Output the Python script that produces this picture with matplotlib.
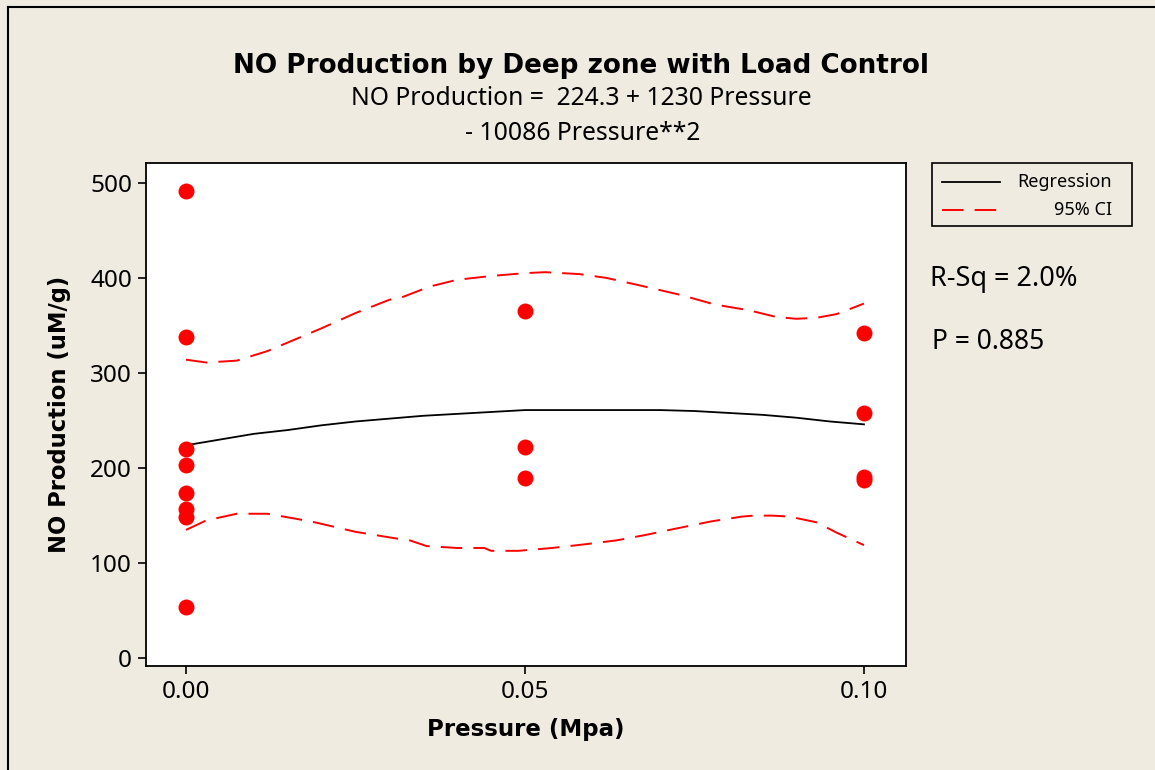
import numpy as np
import matplotlib
matplotlib.use('Agg')
import matplotlib.pyplot as plt
from matplotlib.lines import Line2D
from matplotlib.patches import Rectangle

plt.rcParams['font.family'] = ['Noto Sans', 'DejaVu Sans']
plt.rcParams['lines.scale_dashes'] = False

# observed points
pressure = [0.0, 0.0, 0.0, 0.0, 0.0, 0.0, 0.0, 0.0,
            0.05, 0.05, 0.05,
            0.10, 0.10, 0.10, 0.10]
no_prod = [491, 338, 220, 203, 174, 157, 149, 54,
           365, 222, 190,
           342, 258, 191, 188]

# fitted line
reg_x = [0.000, 0.005, 0.010, 0.015, 0.020, 0.025, 0.030, 0.035, 0.040, 0.045, 0.050,
         0.055, 0.060, 0.065, 0.070, 0.075, 0.080, 0.085, 0.090, 0.095, 0.100]
reg_y = [224, 230, 236, 240, 245, 249, 252, 255, 257, 259, 261,
         261, 261, 261, 261, 260, 258, 256, 253, 249, 246]

# 95% CI bands
ci_up_x = [0.000, 0.003, 0.0075, 0.012, 0.016, 0.020, 0.025, 0.030, 0.032, 0.036, 0.040,
           0.045, 0.050, 0.053, 0.058, 0.062, 0.067, 0.073, 0.078, 0.083, 0.087,
           0.090, 0.093, 0.096, 0.100]
ci_up_y = [314, 311, 313, 323, 335, 347, 363, 377, 380, 391, 398,
           402, 405, 406, 404, 400, 392, 382, 372, 366, 359,
           357, 358, 362, 373]
ci_lo_x = [0.000, 0.003, 0.0075, 0.012, 0.016, 0.019, 0.025, 0.031, 0.033, 0.0355, 0.040,
           0.044, 0.045, 0.049, 0.054, 0.059, 0.0635, 0.068, 0.072, 0.0775, 0.082,
           0.0837, 0.0866, 0.089, 0.093, 0.096, 0.100]
ci_lo_y = [135, 145, 152, 152, 147, 143, 133, 126, 124, 118, 116,
           116, 113, 113, 116, 120, 124, 130, 136, 144, 149,
           150, 150, 149, 143, 132, 119]

x_ticks = [0.0, 0.05, 0.10]
x_ticklabels = ['0.00', '0.05', '0.10']
y_ticks = [0, 100, 200, 300, 400, 500]

W, H = 1155, 770
bg = '#EFEBE1'
bold = ['DejaVu Sans']


def fx(px):
    return px / W


def fy(py):
    return 1 - py / H


fig = plt.figure(figsize=(W / 100, H / 100), dpi=100, facecolor=bg)
ax = fig.add_axes([fx(146), fy(666), fx(906) - fx(146), fy(163) - fy(666)])
ax.set_facecolor('white')

dash = (0, (15.5, 8))
ax.plot(ci_up_x, ci_up_y, color='red', lw=1.4, linestyle=dash)
ax.plot(ci_lo_x, ci_lo_y, color='red', lw=1.4, linestyle=dash)
ax.plot(reg_x, reg_y, color='black', lw=1.3)
ax.plot(pressure, no_prod, 'o', color='red', ms=11.5, markeredgewidth=0)

ax.set_xlim(-0.0059, 0.1062)
ax.set_ylim(-8.1, 520.8)
ax.set_xticks(x_ticks)
ax.set_xticklabels(x_ticklabels)
ax.set_yticks(y_ticks)
ax.tick_params(axis='both', direction='out', length=6, width=1.2, labelsize=17.5, pad=4)
for s in ax.spines.values():
    s.set_linewidth(1.3)

ax.set_xlabel('Pressure (Mpa)', fontsize=16.5, fontweight='bold', family=bold, labelpad=10)
ax.set_ylabel('NO Production (uM/g)', fontsize=16.3, fontweight='bold', family=bold, labelpad=14)

# titles
fig.text(fx(581), fy(73), 'NO Production by Deep zone with Load Control',
         ha='center', va='baseline', fontsize=18.9, fontweight='bold', family=bold)
fig.text(fx(581), fy(105), 'NO Production =  224.3 + 1230 Pressure',
         ha='center', va='baseline', fontsize=17.8)
fig.text(fx(583), fy(140), '- 10086 Pressure**2',
         ha='center', va='baseline', fontsize=17.8)

# legend box
fig.patches.append(Rectangle((fx(932), fy(226)), fx(1132) - fx(932), fy(163) - fy(226),
                             transform=fig.transFigure, facecolor=bg, edgecolor='black', lw=1.2))
fig.lines.append(Line2D([fx(942), fx(1000)], [fy(182), fy(182)], transform=fig.transFigure,
                        color='black', lw=1.3))
fig.lines.append(Line2D([fx(942), fx(1000)], [fy(210), fy(210)], transform=fig.transFigure,
                        color='red', lw=1.4, linestyle=dash))
fig.text(fx(1112), fy(182), 'Regression', ha='right', va='center', fontsize=13)
fig.text(fx(1112), fy(210), '95% CI', ha='right', va='center', fontsize=13)

fig.text(fx(930), fy(279), 'R-Sq = 2.0%', ha='left', va='center', fontsize=19.5)
fig.text(fx(932), fy(342), 'P = 0.885', ha='left', va='center', fontsize=19)

# outer frame (left and top edges only)
fig.lines.append(Line2D([fx(8), fx(8)], [0, fy(7)], transform=fig.transFigure, color='black', lw=1.5))
fig.lines.append(Line2D([fx(8), 1], [fy(7), fy(7)], transform=fig.transFigure, color='black', lw=1.5))

fig.savefig('out.png', dpi=100, facecolor=bg)
